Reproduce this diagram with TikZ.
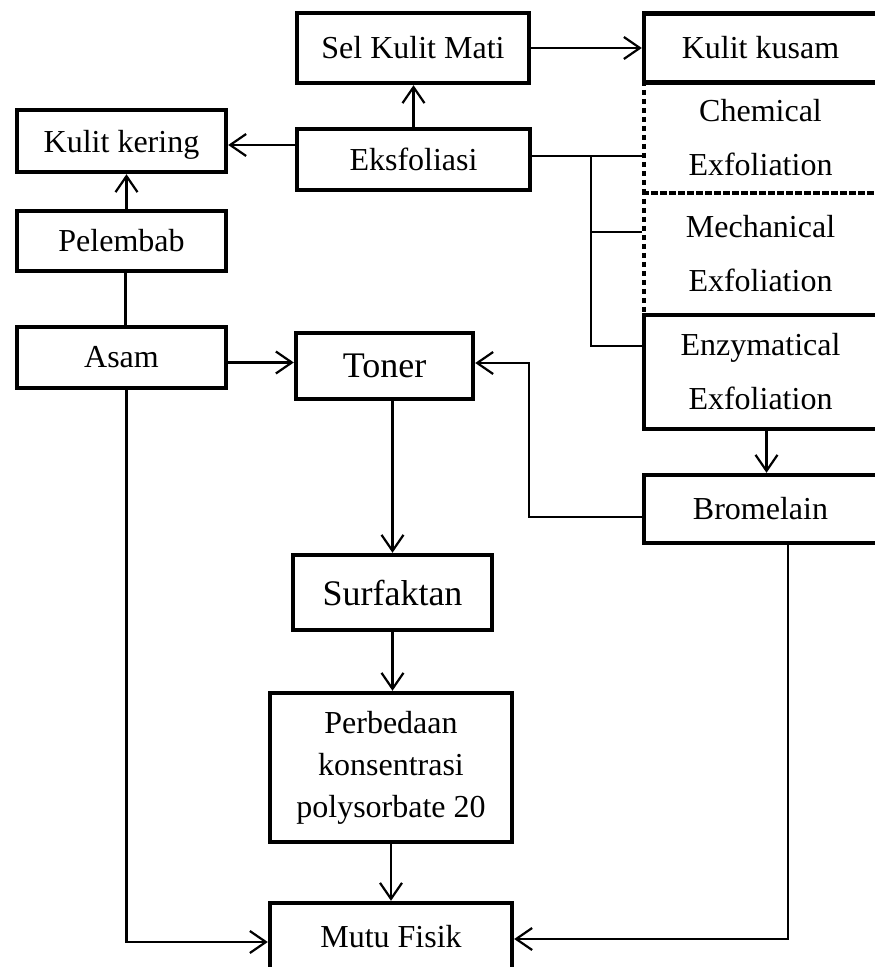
\documentclass[tikz,border=0pt]{standalone}
\usepackage{fontspec}
\setmainfont{Liberation Serif}
\usetikzlibrary{calc}
\usetikzlibrary{arrows.meta}
\tikzstyle{boxnode} = [draw, rectangle, line width=2.2pt, inner sep=0pt, align=center, font=\fontsize{16}{27}\selectfont]
\tikzstyle{dotnode} = [boxnode, dash pattern=on 2.5pt off 2pt]
\tikzstyle{bignode} = [boxnode, font=\fontsize{18}{22}\selectfont]
\tikzstyle{link} = [line width=1.1pt]
\tikzstyle{linkarrow} = [link, -{Straight Barb[length=8pt,width=11pt]}]

\begin{document}
\begin{tikzpicture}[x=0.5pt, y=-0.5pt]
    \useasboundingbox (0,0) rectangle (874,967);
    \node[boxnode, minimum width=116pt, minimum height=35pt] (selmati) at (413,48) {Sel Kulit Mati};
    \node[boxnode, minimum width=116.5pt, minimum height=30.5pt] (eksfoliasi) at ($(selmati)+(0.5,111.5)$) {Eksfoliasi};
    \node[boxnode, minimum width=116.5pt, minimum height=34.5pt] (kusam) at ($(selmati)+(347.5,0)$) {Kulit kusam};
    \node[dotnode, minimum width=116.5pt, minimum height=55.5pt] (chemical) at ($(kusam)+(0,89.5)$) {Chemical\\Exfoliation};
    \node[dotnode, minimum width=116.5pt, minimum height=61pt] (mechanical) at ($(chemical)+(0,116.5)$) {Mechanical\\Exfoliation};
    \node[boxnode, minimum width=116.5pt, minimum height=57pt] (enzymatical) at ($(mechanical)+(0,118)$) {Enzymatical\\Exfoliation};
    \node[boxnode, minimum width=116.5pt, minimum height=34pt] (bromelain) at ($(enzymatical)+(0,137)$) {Bromelain};
    \node[boxnode, minimum width=104.5pt, minimum height=31pt, text depth=0pt] (kering) at ($(eksfoliasi)+(-292,-18.5)$) {Kulit kering};
    \node[boxnode, minimum width=104.5pt, minimum height=30pt] (pelembab) at ($(kering)+(0,100)$) {Pelembab};
    \node[boxnode, minimum width=104.5pt, minimum height=30.5pt] (asam) at ($(pelembab)+(0,116.5)$) {Asam};
    \node[bignode, minimum width=88.5pt, minimum height=33pt] (toner) at ($(asam)+(263,8.5)$) {Toner};
    \node[bignode, minimum width=99.5pt, minimum height=37.5pt] (surfaktan) at ($(toner)+(8,226.5)$) {Surfaktan};
    \node[boxnode, minimum width=121pt, minimum height=74.5pt, font=\fontsize{16}{21}\selectfont] (perbedaan) at ($(surfaktan)+(-1.5,175)$) {Perbedaan\\konsentrasi\\polysorbate 20};
    \node[boxnode, minimum width=121pt, minimum height=33.5pt] (mutu) at ($(perbedaan)+(0,169)$) {Mutu Fisik};

    \coordinate (branch) at ($(eksfoliasi.east)+(59,-3.5)$);
    \coordinate (mechjoin) at ($(mechanical.west)+(0,-22)$);
    \coordinate (enzjoin) at ($(enzymatical.west)+(0,-26)$);

    \draw[linkarrow] (eksfoliasi.north) -- (eksfoliasi.north |- selmati.south);
    \draw[linkarrow] (selmati.east) -- (selmati.east -| kusam.west);
    \draw[linkarrow] ($(eksfoliasi.west |- kering.east)+(0,4)$) -- ($(kering.east)+(0,4)$);
    \draw[linkarrow] ($(pelembab.north)+(5,0)$) -- ($(kering.south)+(5,0)$);
    \draw[link] ($(asam.north)+(4,0)$) -- ($(pelembab.south)+(4,0)$);
    \draw[linkarrow] ($(asam.east)+(0,5)$) -- ($(asam.east -| toner.west)+(0,5)$);
    \draw[link] (eksfoliasi.east |- branch) -- (chemical.west |- branch);
    \draw[link] (branch) |- (enzjoin);
    \draw[link] (branch |- mechjoin) -- (mechjoin);
    \draw[linkarrow] ($(enzymatical.south)+(6,0)$) -- ($(bromelain.north)+(6,0)$);
    \draw[linkarrow] ($(bromelain.west)+(0,8)$) -- ++(-113,0) |- ($(toner.east)+(0,-3)$);
    \draw[linkarrow] (toner.south -| surfaktan.north) -- (surfaktan.north);
    \draw[linkarrow] (surfaktan.south) -- (surfaktan.south |- perbedaan.north);
    \draw[linkarrow] (perbedaan.south) -- (mutu.north);
    \draw[linkarrow] ($(asam.south)+(5,0)$) |- ($(mutu.west)+(0,5.5)$);
    \draw[linkarrow] ($(bromelain.south)+(27.5,0)$) |- ($(mutu.east)+(0,2.5)$);
\end{tikzpicture}
\end{document}
